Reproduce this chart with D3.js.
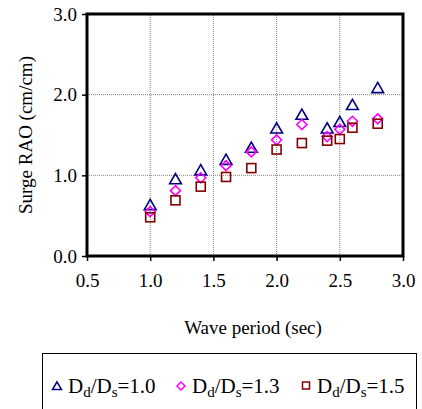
<!DOCTYPE html>
<html>
<head>
<meta charset="utf-8">
<script src="https://cdn.jsdelivr.net/npm/d3@7"></script>
<style>
  body { margin: 0; background: #fff; }
  text { font-family: "Liberation Serif", "Times New Roman", serif; }
</style>
</head>
<body>
<div id="chart"></div>
<script>
var period = [1.0, 1.2, 1.4, 1.6, 1.8, 2.0, 2.2, 2.4, 2.5, 2.6, 2.8];
var rao10 = [0.63, 0.95, 1.06, 1.19, 1.34, 1.58, 1.75, 1.58, 1.66, 1.87, 2.08];
var rao13 = [0.55, 0.81, 0.97, 1.12, 1.29, 1.44, 1.63, 1.48, 1.57, 1.67, 1.70];
var rao15 = [0.48, 0.69, 0.86, 0.98, 1.09, 1.32, 1.40, 1.43, 1.45, 1.59, 1.64];
var xTicks = [0.5, 1.0, 1.5, 2.0, 2.5, 3.0];
var yTicks = [0.0, 1.0, 2.0, 3.0];
var seriesNames = ["1.0", "1.3", "1.5"];

var width = 422, height = 409;
var svg = d3.select("#chart").append("svg")
    .attr("width", width)
    .attr("height", height);

var x = d3.scaleLinear().domain([0.5, 3.0]).range([87, 403]);
var y = d3.scaleLinear().domain([0, 3]).range([256, 14]);

// gridlines
svg.selectAll(".vgrid")
    .data(xTicks.slice(1, -1))
    .enter().append("line")
    .attr("x1", function(d) { return x(d); })
    .attr("x2", function(d) { return x(d); })
    .attr("y1", y(0))
    .attr("y2", y(3))
    .attr("stroke", "#808080")
    .attr("stroke-width", 1)
    .attr("stroke-dasharray", "1,1");

svg.selectAll(".hgrid")
    .data(yTicks.slice(1, -1))
    .enter().append("line")
    .attr("x1", x(0.5))
    .attr("x2", x(3.0))
    .attr("y1", function(d) { return y(d); })
    .attr("y2", function(d) { return y(d); })
    .attr("stroke", "#808080")
    .attr("stroke-width", 1)
    .attr("stroke-dasharray", "1,1");

// axes
var xAxis = svg.append("g")
    .attr("transform", "translate(0," + y(0) + ")")
    .call(d3.axisBottom(x).tickValues(xTicks).tickFormat(d3.format(".1f")).tickSize(5).tickPadding(13));

var yAxis = svg.append("g")
    .attr("transform", "translate(" + x(0.5) + ",0)")
    .call(d3.axisLeft(y).tickValues(yTicks).tickFormat(d3.format(".1f")).tickSize(5).tickPadding(5));

[xAxis, yAxis].forEach(function(g) {
    g.attr("font-family", "Liberation Serif, serif").attr("font-size", 19);
    g.select(".domain").remove();
    g.selectAll(".tick line").attr("stroke", "#000").attr("stroke-width", 1.5);
    g.selectAll(".tick text").attr("fill", "#000");
});

// frame
svg.append("rect")
    .attr("x", x(0.5))
    .attr("y", y(3))
    .attr("width", x(3.0) - x(0.5))
    .attr("height", y(0) - y(3))
    .attr("fill", "none")
    .attr("stroke", "#000")
    .attr("stroke-width", 3);

// axis titles
svg.append("text")
    .attr("x", (x(0.5) + x(3.0)) / 2 + 8)
    .attr("y", 334)
    .attr("text-anchor", "middle")
    .style("font-size", "19px")
    .text("Wave period (sec)");

svg.append("text")
    .attr("transform", "translate(32," + (y(1.5)) + ") rotate(-90)")
    .attr("text-anchor", "middle")
    .style("font-size", "19px")
    .text("Surge RAO (cm/cm)");

// markers
var tri = d3.symbol().type(d3.symbolTriangle).size(60);
var dia = function(s) { return "M0," + (-s) + "L" + s + ",0L0," + s + "L" + (-s) + ",0Z"; };

svg.selectAll(".s10")
    .data(period.map(function(p, i) { return [p, rao10[i]]; }))
    .enter().append("path")
    .attr("d", tri)
    .attr("transform", function(d) { return "translate(" + x(d[0]) + "," + (y(d[1]) + 1) + ")"; })
    .attr("fill", "none")
    .attr("stroke", "#000080")
    .attr("stroke-width", 1.6);

svg.selectAll(".s13")
    .data(period.map(function(p, i) { return [p, rao13[i]]; }))
    .enter().append("path")
    .attr("d", dia(5))
    .attr("transform", function(d) { return "translate(" + x(d[0]) + "," + y(d[1]) + ")"; })
    .attr("fill", "none")
    .attr("stroke", "#ff00ff")
    .attr("stroke-width", 1.6);

svg.selectAll(".s15")
    .data(period.map(function(p, i) { return [p, rao15[i]]; }))
    .enter().append("rect")
    .attr("x", function(d) { return x(d[0]) - 4.5; })
    .attr("y", function(d) { return y(d[1]) - 4.5; })
    .attr("width", 9)
    .attr("height", 9)
    .attr("fill", "none")
    .attr("stroke", "#800000")
    .attr("stroke-width", 1.6);

// legend
var legend = svg.append("g");
legend.append("rect")
    .attr("x", 42.5)
    .attr("y", 353.5)
    .attr("width", 374)
    .attr("height", 70)
    .attr("fill", "#fff")
    .attr("stroke", "#000")
    .attr("stroke-width", 1);

var legX = [57, 181, 306];
var legY = 386;
legend.append("path").attr("d", d3.symbol().type(d3.symbolTriangle).size(35))
    .attr("transform", "translate(" + legX[0] + "," + (legY + 1) + ")")
    .attr("fill", "none").attr("stroke", "#000080").attr("stroke-width", 1.5);
legend.append("path").attr("d", dia(4))
    .attr("transform", "translate(" + legX[1] + "," + legY + ")")
    .attr("fill", "none").attr("stroke", "#ff00ff").attr("stroke-width", 1.5);
legend.append("rect")
    .attr("x", legX[2] - 3.5).attr("y", legY - 4).attr("width", 7).attr("height", 7)
    .attr("fill", "none").attr("stroke", "#800000").attr("stroke-width", 1.5);

seriesNames.forEach(function(n, i) {
    var t = legend.append("text")
        .attr("x", legX[i] + 11)
        .attr("y", legY + 7)
        .style("font-size", "21px");
    t.append("tspan").text("D");
    t.append("tspan").attr("dy", 4).style("font-size", "15px").text("d");
    t.append("tspan").attr("dy", -4).text("/D");
    t.append("tspan").attr("dy", 4).style("font-size", "15px").text("s");
    t.append("tspan").attr("dy", -4).text("=" + n);
});
</script>
</body>
</html>
